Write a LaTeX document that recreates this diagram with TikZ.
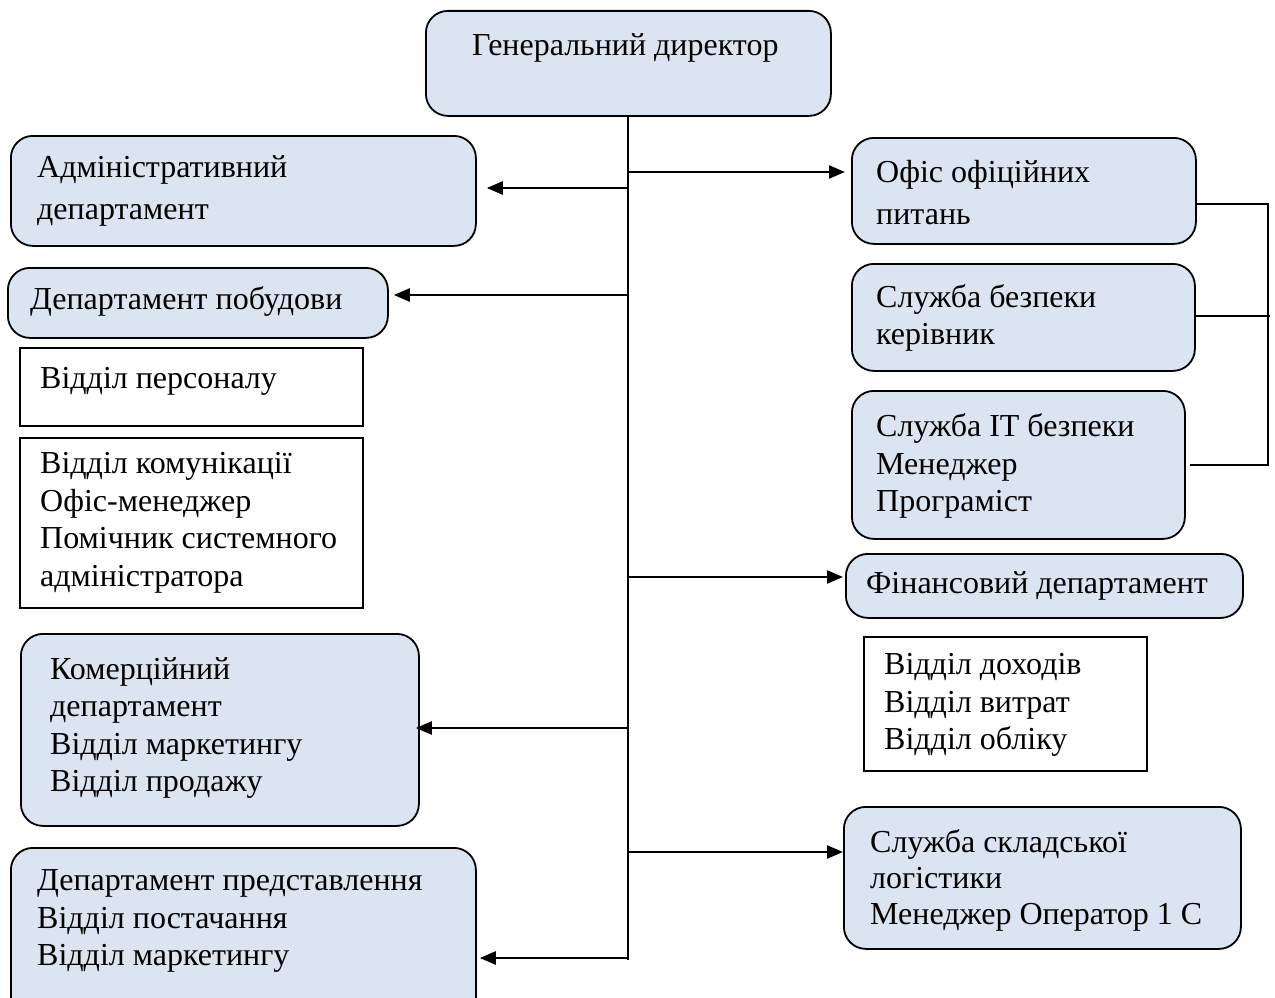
\documentclass[tikz,border=0pt]{standalone}
\usepackage{fontspec}
\setmainfont{Liberation Serif}
\usetikzlibrary{arrows.meta}
\definecolor{boxfill}{HTML}{DBE5F1}
\begin{document}
\begin{tikzpicture}[x=1pt,y=-1pt,
  rbox/.style={draw, line width=1.8pt, fill=boxfill, rounded corners=22pt, anchor=north west, inner sep=0pt},
  sbox/.style={draw, line width=1.5pt, fill=white, anchor=north west, inner sep=0pt},
  txt/.style={font=\fontsize{32}{37.5}\selectfont, align=left, inner sep=0pt, anchor=west},
  widetxt/.style={txt, font=\fontsize{32}{42}\selectfont},
  arr/.style={-{Triangle[length=16pt,width=13pt]}, line width=2.4pt},
  ln/.style={line width=2pt}]
\useasboundingbox (0,0) rectangle (1275,998);
\fill[white] (0,0) rectangle (1275,998);
% boxes, left column
\node[rbox, minimum width=405pt, minimum height=105pt] (gd) at (425,10) {};
\node[rbox, minimum width=465pt, minimum height=110pt] (adm) at (10,135) {};
\node[rbox, minimum width=380pt, minimum height=70pt] (bud) at (7,267) {};
\node[sbox, minimum width=343pt, minimum height=78pt] (pers) at (19,347) {};
\node[sbox, minimum width=343pt, minimum height=170pt] (komu) at (19,437) {};
\node[rbox, minimum width=398pt, minimum height=192pt] (comm) at (20,633) {};
\node[rbox, minimum width=465pt, minimum height=190pt] (pred) at (10,847) {};
% boxes, right column
\node[rbox, minimum width=344pt, minimum height=106pt] (ofis) at (851,137) {};
\node[rbox, minimum width=343pt, minimum height=107pt] (bezp) at (851,263) {};
\node[rbox, minimum width=333pt, minimum height=148pt] (itb) at (851,390) {};
\node[rbox, minimum width=397pt, minimum height=64pt] (fin) at (845,553) {};
\node[sbox, minimum width=283pt, minimum height=134pt] (doh) at (863,636) {};
\node[rbox, minimum width=397pt, minimum height=142pt] (skl) at (843,806) {};
% texts
\node[txt] (gdt) at (472,48) {Генеральний директор};
\node[widetxt] (admt) at (37,191) {Адміністративний\\департамент};
\node[txt] (budt) at (30,301) {Департамент побудови};
\node[txt] (perst) at (40,381) {Відділ персоналу};
\node[txt] (komut) at (40,523) {Відділ комунікації\\Офіс-менеджер\\Помічник системного\\адміністратора};
\node[txt] (commt) at (50,728) {Комерційний\\департамент\\Відділ маркетингу\\Відділ продажу};
\node[txt] (predt) at (37,921) {Департамент представлення\\Відділ постачання\\Відділ маркетингу};
\node[widetxt] (ofist) at (876,193) {Офіс офіційних\\питань};
\node[txt] (bezpt) at (876,318) {Служба безпеки\\керівник};
\node[txt] (itbt) at (876,466) {Служба IT безпеки\\Менеджер\\Програміст};
\node[txt] (fint) at (866,586) {Фінансовий департамент};
\node[txt] (doht) at (884,705) {Відділ доходів\\Відділ витрат\\Відділ обліку};
\node[txt, font=\fontsize{32}{36}\selectfont] (sklt) at (870,880) {Служба складської\\логістики\\Менеджер Оператор 1 С};
% trunk
\coordinate (tb) at (627,960);
\draw[ln] (gd.south) -- (gd.south |- tb);
\coordinate (j1) at (627,188);
\coordinate (j2) at (627,172);
\coordinate (j3) at (627,295);
\coordinate (j4) at (627,577);
\coordinate (j5) at (627,728);
\coordinate (j6) at (627,852);
\coordinate (j7) at (627,958);
\draw[arr, shorten >=10pt] (j1) -- (adm.east |- j1);
\draw[arr, shorten >=6pt] (j2) -- (ofis.west |- j2);
\draw[arr, shorten >=5pt] (j3) -- (bud.east |- j3);
\draw[arr, shorten >=2pt] (j4) -- (fin.west |- j4);
\draw[arr, shorten >=-4pt] (j5) -- (comm.east |- j5);
\draw[arr] (j6) -- (skl.west |- j6);
\draw[arr, shorten >=3pt] (j7) -- (pred.east |- j7);
% right bracket
\coordinate (r1) at (1268,204);
\coordinate (r2) at (1268,316);
\coordinate (r3) at (1268,465);
\draw[ln] (ofis.east |- r1) -- (r1) -- (r3) -- ([xshift=4pt]itb.east |- r3);
\draw[ln] (bezp.east |- r2) -- ([xshift=2pt]r2);
\end{tikzpicture}
\end{document}
